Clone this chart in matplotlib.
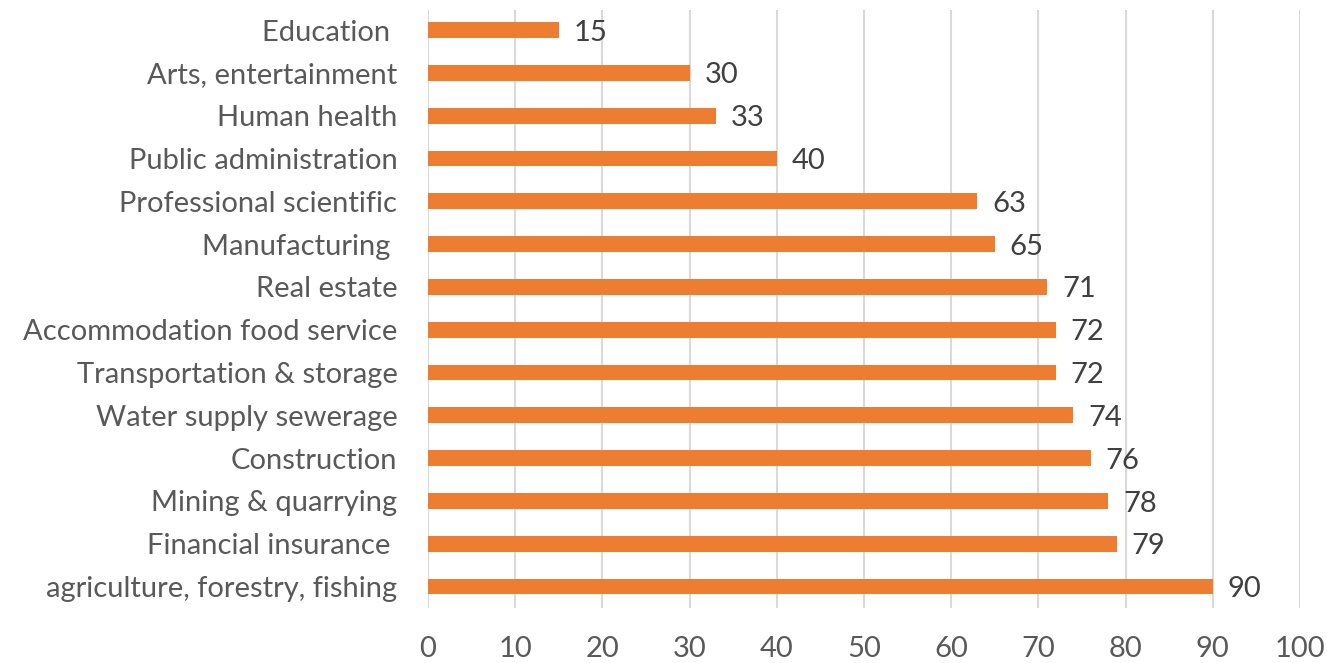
import matplotlib
matplotlib.use("Agg")
import matplotlib.pyplot as plt

# sectors, top to bottom as in the chart
sectors = ["Education ", "Arts, entertainment", "Human health", "Public administration",
           "Professional scientific", "Manufacturing ", "Real estate",
           "Accommodation food service", "Transportation & storage", "Water supply sewerage",
           "Construction", "Mining & quarrying", "Financial insurance ",
           "agriculture, forestry, fishing"]
values = [15, 30, 33, 40, 63, 65, 71, 72, 72, 74, 76, 78, 79, 90]
xticks = list(range(0, 101, 10))

plt.rcParams['font.family'] = ['Lato', 'DejaVu Sans']

fig = plt.figure(figsize=(13.27, 6.63), dpi=100)
ax = fig.add_axes([0.3225, 0.083, 0.6572, 0.902])

ypos = list(range(len(sectors)))
ax.barh(ypos, values, height=0.37, color="#ED7D31", zorder=3)
for y, v in zip(ypos, values):
    ax.text(v + 1.7, y + 0.06, str(v), va="center", ha="left", fontsize=21,
            color="#404040", zorder=4)

ax.set_yticks(ypos)
ax.set_yticklabels(sectors, fontsize=21, color="#595959")
ax.set_ylim(len(sectors) - 0.5, -0.47)
ax.set_xlim(0, 100)
ax.set_xticks(xticks)
ax.set_xticklabels([str(t) for t in xticks], fontsize=21, color="#595959")

ax.grid(axis="x", color="#D9D9D9", linewidth=1.5, zorder=0)
for s in ax.spines.values():
    s.set_visible(False)
ax.tick_params(axis="both", length=0)
ax.tick_params(axis="y", pad=22)
ax.tick_params(axis="x", pad=20)

fig.savefig("out.png", dpi=100)
